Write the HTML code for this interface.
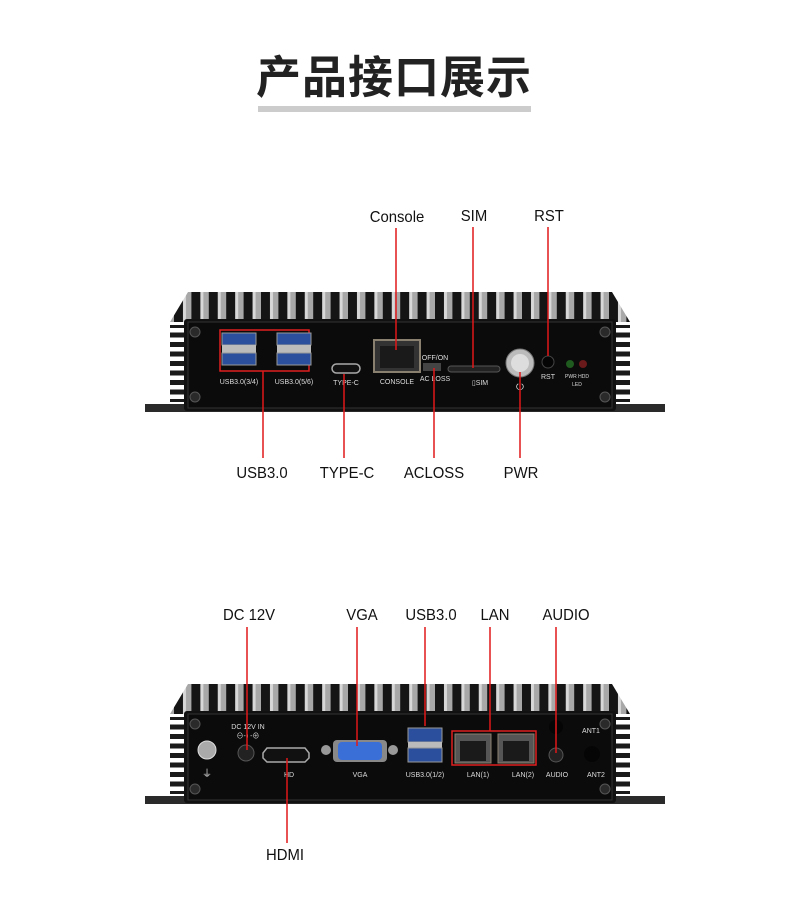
<!DOCTYPE html>
<html><head><meta charset="utf-8"><style>
html,body{margin:0;padding:0;background:#fff;}
svg{display:block}
text{font-family:"Liberation Sans","Noto Sans CJK SC",sans-serif;}
</style></head><body>
<svg width="788" height="914" viewBox="0 0 788 914" xmlns="http://www.w3.org/2000/svg">
<defs>
<pattern id="fins" x="0" y="0" width="17.4" height="40" patternUnits="userSpaceOnUse">
<rect width="17.4" height="40" fill="#a8a8a8"/>
<rect x="0" width="9" height="40" fill="#151515"/>
<rect x="9" width="3" height="40" fill="#d8d8d8"/>
</pattern>
<pattern id="side" x="0" y="0" width="20" height="9.5" patternUnits="userSpaceOnUse">
<rect width="20" height="9.5" fill="#fff"/>
<rect y="0" width="20" height="5" fill="#1a1a1a"/>
</pattern>
<g id="body">
<polygon points="170,322 188,292 612,292 630,322" fill="url(#fins)"/>
<rect x="170" y="325" width="18" height="77" fill="url(#side)"/>
<rect x="612" y="325" width="18" height="77" fill="url(#side)"/>
<rect x="145" y="404" width="520" height="8" fill="#2a2a2a"/>
<rect x="184" y="319" width="432" height="92" rx="3" fill="#111"/>
<rect x="188" y="322" width="424" height="86" fill="#0b0b0b" stroke="#333" stroke-width="1"/>
<circle cx="195" cy="332" r="5" fill="#2a2a2a" stroke="#555"/>
<circle cx="195" cy="397" r="5" fill="#2a2a2a" stroke="#555"/>
<circle cx="605" cy="332" r="5" fill="#2a2a2a" stroke="#555"/>
<circle cx="605" cy="397" r="5" fill="#2a2a2a" stroke="#555"/>
</g>
</defs>

<text x="394" y="93" text-anchor="middle" font-size="45" font-weight="bold" fill="#222" letter-spacing="1">产品接口展示</text>
<rect x="258" y="106" width="273" height="6" fill="#cccccc"/>

<!-- device 1 -->
<use href="#body"/>
<g>
<rect x="220" y="330" width="89" height="41" fill="none" stroke="#e02020" stroke-width="1.5"/>
<rect x="222" y="333" width="34" height="12" fill="#2b4f9c" stroke="#999"/>
<rect x="222" y="345" width="34" height="8" fill="#bbb"/>
<rect x="222" y="353" width="34" height="12" fill="#2b4f9c" stroke="#999"/>
<rect x="277" y="333" width="34" height="12" fill="#2b4f9c" stroke="#999"/>
<rect x="277" y="345" width="34" height="8" fill="#bbb"/>
<rect x="277" y="353" width="34" height="12" fill="#2b4f9c" stroke="#999"/>
<text x="239" y="384" font-size="7" fill="#ddd" text-anchor="middle">USB3.0(3/4)</text>
<text x="294" y="384" font-size="7" fill="#ddd" text-anchor="middle">USB3.0(5/6)</text>
<rect x="332" y="364" width="28" height="9" rx="4.5" fill="#111" stroke="#aaa" stroke-width="1.5"/>
<text x="346" y="385" font-size="7" fill="#ddd" text-anchor="middle">TYPE-C</text>
<rect x="374" y="340" width="46" height="32" fill="#333" stroke="#8a8070" stroke-width="2"/>
<rect x="380" y="346" width="34" height="22" fill="#1a1a1a"/>
<text x="397" y="384" font-size="7" fill="#ddd" text-anchor="middle">CONSOLE</text>
<text x="435" y="360" font-size="7" fill="#ddd" text-anchor="middle">OFF/ON</text>
<rect x="423" y="363" width="18" height="8" fill="#444"/>
<text x="435" y="381" font-size="7" fill="#ddd" text-anchor="middle">AC LOSS</text>
<rect x="448" y="366" width="52" height="6" rx="3" fill="#222" stroke="#555"/>
<text x="480" y="385" font-size="7" fill="#ddd" text-anchor="middle">▯SIM</text>
<circle cx="520" cy="363" r="14" fill="#bbb" stroke="#777"/>
<circle cx="520" cy="363" r="9" fill="#ddd"/>
<text x="520" y="390" font-size="10" fill="#ddd" text-anchor="middle">⏻</text>
<circle cx="548" cy="362" r="6" fill="#050505" stroke="#444"/>
<text x="548" y="379" font-size="7" fill="#ddd" text-anchor="middle">RST</text>
<circle cx="570" cy="364" r="4" fill="#1f5a1f"/>
<circle cx="583" cy="364" r="4" fill="#6a1a1a"/>
<text x="577" y="378" font-size="5" fill="#ddd" text-anchor="middle">PWR HDD</text>
<text x="577" y="386" font-size="5" fill="#ddd" text-anchor="middle">LED</text>
</g>
<g stroke="#e01818" stroke-width="1.5">
<line x1="396" y1="228" x2="396" y2="350"/>
<line x1="473" y1="227" x2="473" y2="368"/>
<line x1="548" y1="227" x2="548" y2="356"/>
<line x1="263" y1="371" x2="263" y2="458"/>
<line x1="344" y1="374" x2="344" y2="458"/>
<line x1="434" y1="368" x2="434" y2="458"/>
<line x1="520" y1="372" x2="520" y2="458"/>
</g>
<g font-size="16" fill="#111" text-anchor="middle" textLength="0">
<text x="397" y="222" transform="translate(397,0) scale(0.93,1) translate(-397,0)">Console</text>
<text x="474" y="221" transform="translate(474,0) scale(0.93,1) translate(-474,0)">SIM</text>
<text x="549" y="221" transform="translate(549,0) scale(0.93,1) translate(-549,0)">RST</text>
<text x="262" y="478" transform="translate(262,0) scale(0.93,1) translate(-262,0)">USB3.0</text>
<text x="347" y="478" transform="translate(347,0) scale(0.93,1) translate(-347,0)">TYPE-C</text>
<text x="434" y="478" transform="translate(434,0) scale(0.93,1) translate(-434,0)">ACLOSS</text>
<text x="521" y="478" transform="translate(521,0) scale(0.93,1) translate(-521,0)">PWR</text>
</g>

<!-- device 2 -->
<use href="#body" y="392"/>
<g>
<circle cx="207" cy="750" r="9" fill="#aaa" stroke="#ddd"/>
<text x="207" y="777" font-size="10" fill="#ddd" text-anchor="middle">⏚</text>
<text x="248" y="729" font-size="7" fill="#ddd" text-anchor="middle">DC 12V IN</text>
<text x="248" y="738" font-size="7" fill="#ddd" text-anchor="middle">⊖-◐-⊕</text>
<circle cx="246" cy="753" r="8" fill="#222" stroke="#555"/>
<path d="M267,748 h38 l4,5 v5 l-4,4 h-38 l-4,-4 v-5 z" fill="#111" stroke="#aaa" stroke-width="1.5"/>
<text x="289" y="777" font-size="7" fill="#ddd" text-anchor="middle">HD</text>
<circle cx="326" cy="750" r="5" fill="#999"/>
<circle cx="393" cy="750" r="5" fill="#999"/>
<rect x="333" y="740" width="54" height="22" rx="4" fill="#888"/>
<rect x="338" y="742" width="44" height="18" rx="4" fill="#3a6fd8"/>
<text x="360" y="777" font-size="7" fill="#ddd" text-anchor="middle">VGA</text>
<rect x="408" y="728" width="34" height="14" fill="#2b4f9c" stroke="#999"/>
<rect x="408" y="742" width="34" height="6" fill="#bbb"/>
<rect x="408" y="748" width="34" height="14" fill="#2b4f9c" stroke="#999"/>
<text x="425" y="777" font-size="7" fill="#ddd" text-anchor="middle">USB3.0(1/2)</text>
<rect x="452" y="731" width="84" height="34" fill="none" stroke="#e02020" stroke-width="1.5"/>
<rect x="455" y="734" width="36" height="29" fill="#555" stroke="#8a8070"/>
<rect x="460" y="741" width="26" height="20" fill="#1a1a1a"/>
<rect x="498" y="734" width="36" height="29" fill="#555" stroke="#8a8070"/>
<rect x="503" y="741" width="26" height="20" fill="#1a1a1a"/>
<text x="478" y="777" font-size="7" fill="#ddd" text-anchor="middle">LAN(1)</text>
<text x="523" y="777" font-size="7" fill="#ddd" text-anchor="middle">LAN(2)</text>
<circle cx="556" cy="727" r="7" fill="#050505"/>
<circle cx="556" cy="755" r="7" fill="#222" stroke="#555"/>
<text x="557" y="777" font-size="7" fill="#ddd" text-anchor="middle">AUDIO</text>
<text x="591" y="733" font-size="7" fill="#ddd" text-anchor="middle">ANT1</text>
<circle cx="592" cy="754" r="8" fill="#050505"/>
<text x="596" y="777" font-size="7" fill="#ddd" text-anchor="middle">ANT2</text>
</g>
<g stroke="#e01818" stroke-width="1.5">
<line x1="247" y1="627" x2="247" y2="750"/>
<line x1="357" y1="627" x2="357" y2="746"/>
<line x1="425" y1="627" x2="425" y2="726"/>
<line x1="490" y1="627" x2="490" y2="731"/>
<line x1="556" y1="627" x2="556" y2="753"/>
<line x1="287" y1="758" x2="287" y2="843"/>
</g>
<g font-size="16" fill="#111" text-anchor="middle">
<text x="249" y="620" transform="translate(249,0) scale(0.93,1) translate(-249,0)">DC 12V</text>
<text x="362" y="620" transform="translate(362,0) scale(0.93,1) translate(-362,0)">VGA</text>
<text x="431" y="620" transform="translate(431,0) scale(0.93,1) translate(-431,0)">USB3.0</text>
<text x="495" y="620" transform="translate(495,0) scale(0.93,1) translate(-495,0)">LAN</text>
<text x="566" y="620" transform="translate(566,0) scale(0.93,1) translate(-566,0)">AUDIO</text>
<text x="285" y="860" transform="translate(285,0) scale(0.93,1) translate(-285,0)">HDMI</text>
</g>
</svg>
</body></html>
